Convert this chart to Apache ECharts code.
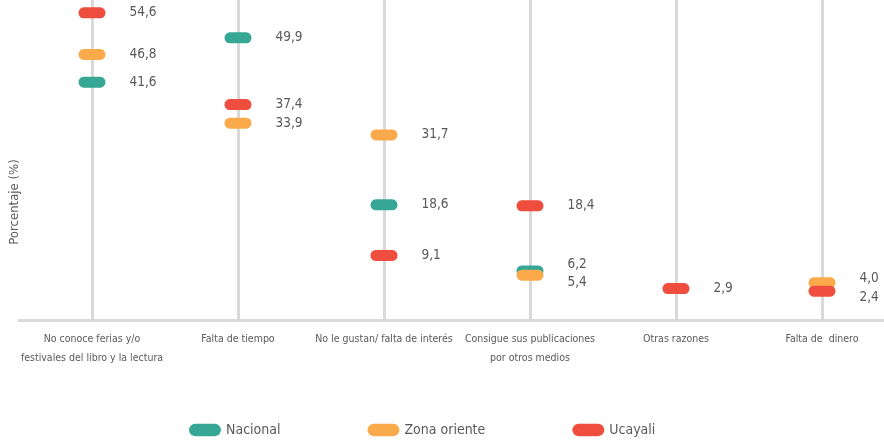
<!DOCTYPE html>
<html>
<head>
<meta charset="utf-8">
<script src="https://cdn.jsdelivr.net/npm/echarts@6/dist/echarts.min.js"></script>
<style>
    html, body { margin: 0; padding: 0; background: #fff; }
    #chart { width: 884px; height: 445px; }
</style>
</head>
<body>
<div id="chart"></div>
<script>
var categorias = [
    'No conoce ferias y/o\nfestivales del libro y la lectura',
    'Falta de tiempo',
    'No le gustan/ falta de interés',
    'Consigue sus publicaciones\npor otros medios',
    'Otras razones',
    'Falta de  dinero'
];
var nacional = [41.6, 49.9, 18.6, 6.2, null, null];
var zonaOriente = [46.8, 33.9, 31.7, 5.4, null, 4.0];
var ucayali = [54.6, 37.4, 9.1, 18.4, 2.9, 2.4];

// desplazamiento de etiquetas que se tocan
var ajusteEtiqueta = {
    'Nacional': { 3: -6 },
    'Zona oriente': { 3: 7, 5: -4 },
    'Ucayali': { 5: 6 }
};

var fuente = '"DejaVu Sans"';
var estiramiento = 'condensed';
var gris = '#595959';
var pastilla = 'path://M5,0 H21 A5,5 0 0 1 21,10 H5 A5,5 0 0 1 5,0 Z';

var chart = echarts.init(document.getElementById('chart'));

var serie = function (nombre, datos, color) {
    var ajuste = ajusteEtiqueta[nombre] || {};
    return {
        name: nombre,
        type: 'scatter',
        symbol: pastilla,
        symbolSize: [27, 11],
        itemStyle: { color: color, opacity: 1 },
        label: {
            show: true,
            position: 'right',
            distance: 24,
            color: gris,
            fontFamily: fuente,
            fontWeight: estiramiento,
            fontSize: 13.5,
            formatter: function (p) {
                return p.value.toFixed(1).replace('.', ',');
            }
        },
        data: datos.map(function (v, i) {
            if (v === null) return null;
            if (ajuste[i] === undefined) return v;
            return { value: v, label: { offset: [0, ajuste[i]] } };
        })
    };
};

var option = {
    animation: false,
    grid: { left: 19, width: 876, top: 0, height: 320, outerBoundsMode: 'none' },
    legend: {
        left: 184,
        top: 418,
        itemGap: 87,
        itemWidth: 32,
        itemHeight: 13,
        textStyle: { color: gris, fontFamily: fuente, fontWeight: estiramiento, fontSize: 14 },
        data: [
            { name: 'Nacional', icon: pastilla },
            { name: 'Zona oriente', icon: pastilla },
            { name: 'Ucayali', icon: pastilla }
        ]
    },
    xAxis: {
        type: 'category',
        data: categorias,
        axisLine: { onZero: false, lineStyle: { color: '#d9d9d9', width: 3 } },
        axisTick: {
            show: true,
            alignWithLabel: true,
            inside: true,
            length: 320,
            lineStyle: { color: '#d9d9d9', width: 3 }
        },
        axisLabel: {
            color: gris,
            fontFamily: fuente,
            fontWeight: estiramiento,
            fontSize: 10.5,
            lineHeight: 19,
            margin: 10,
            interval: 0
        }
    },
    yAxis: {
        type: 'value',
        min: -3,
        max: 57,
        axisLine: { show: false },
        axisTick: { show: false },
        axisLabel: { show: false },
        splitLine: { show: false },
        name: 'Porcentaje (%)',
        nameLocation: 'middle',
        nameGap: -2,
        nameTextStyle: {
            color: gris,
            fontFamily: fuente,
            fontWeight: estiramiento,
            fontSize: 13,
            padding: [0, 84, 0, 0]
        }
    },
    series: [
        serie('Nacional', nacional, '#36a795'),
        serie('Zona oriente', zonaOriente, '#faaa4b'),
        serie('Ucayali', ucayali, '#ef4d3d')
    ]
};

chart.setOption(option);
</script>
</body>
</html>
